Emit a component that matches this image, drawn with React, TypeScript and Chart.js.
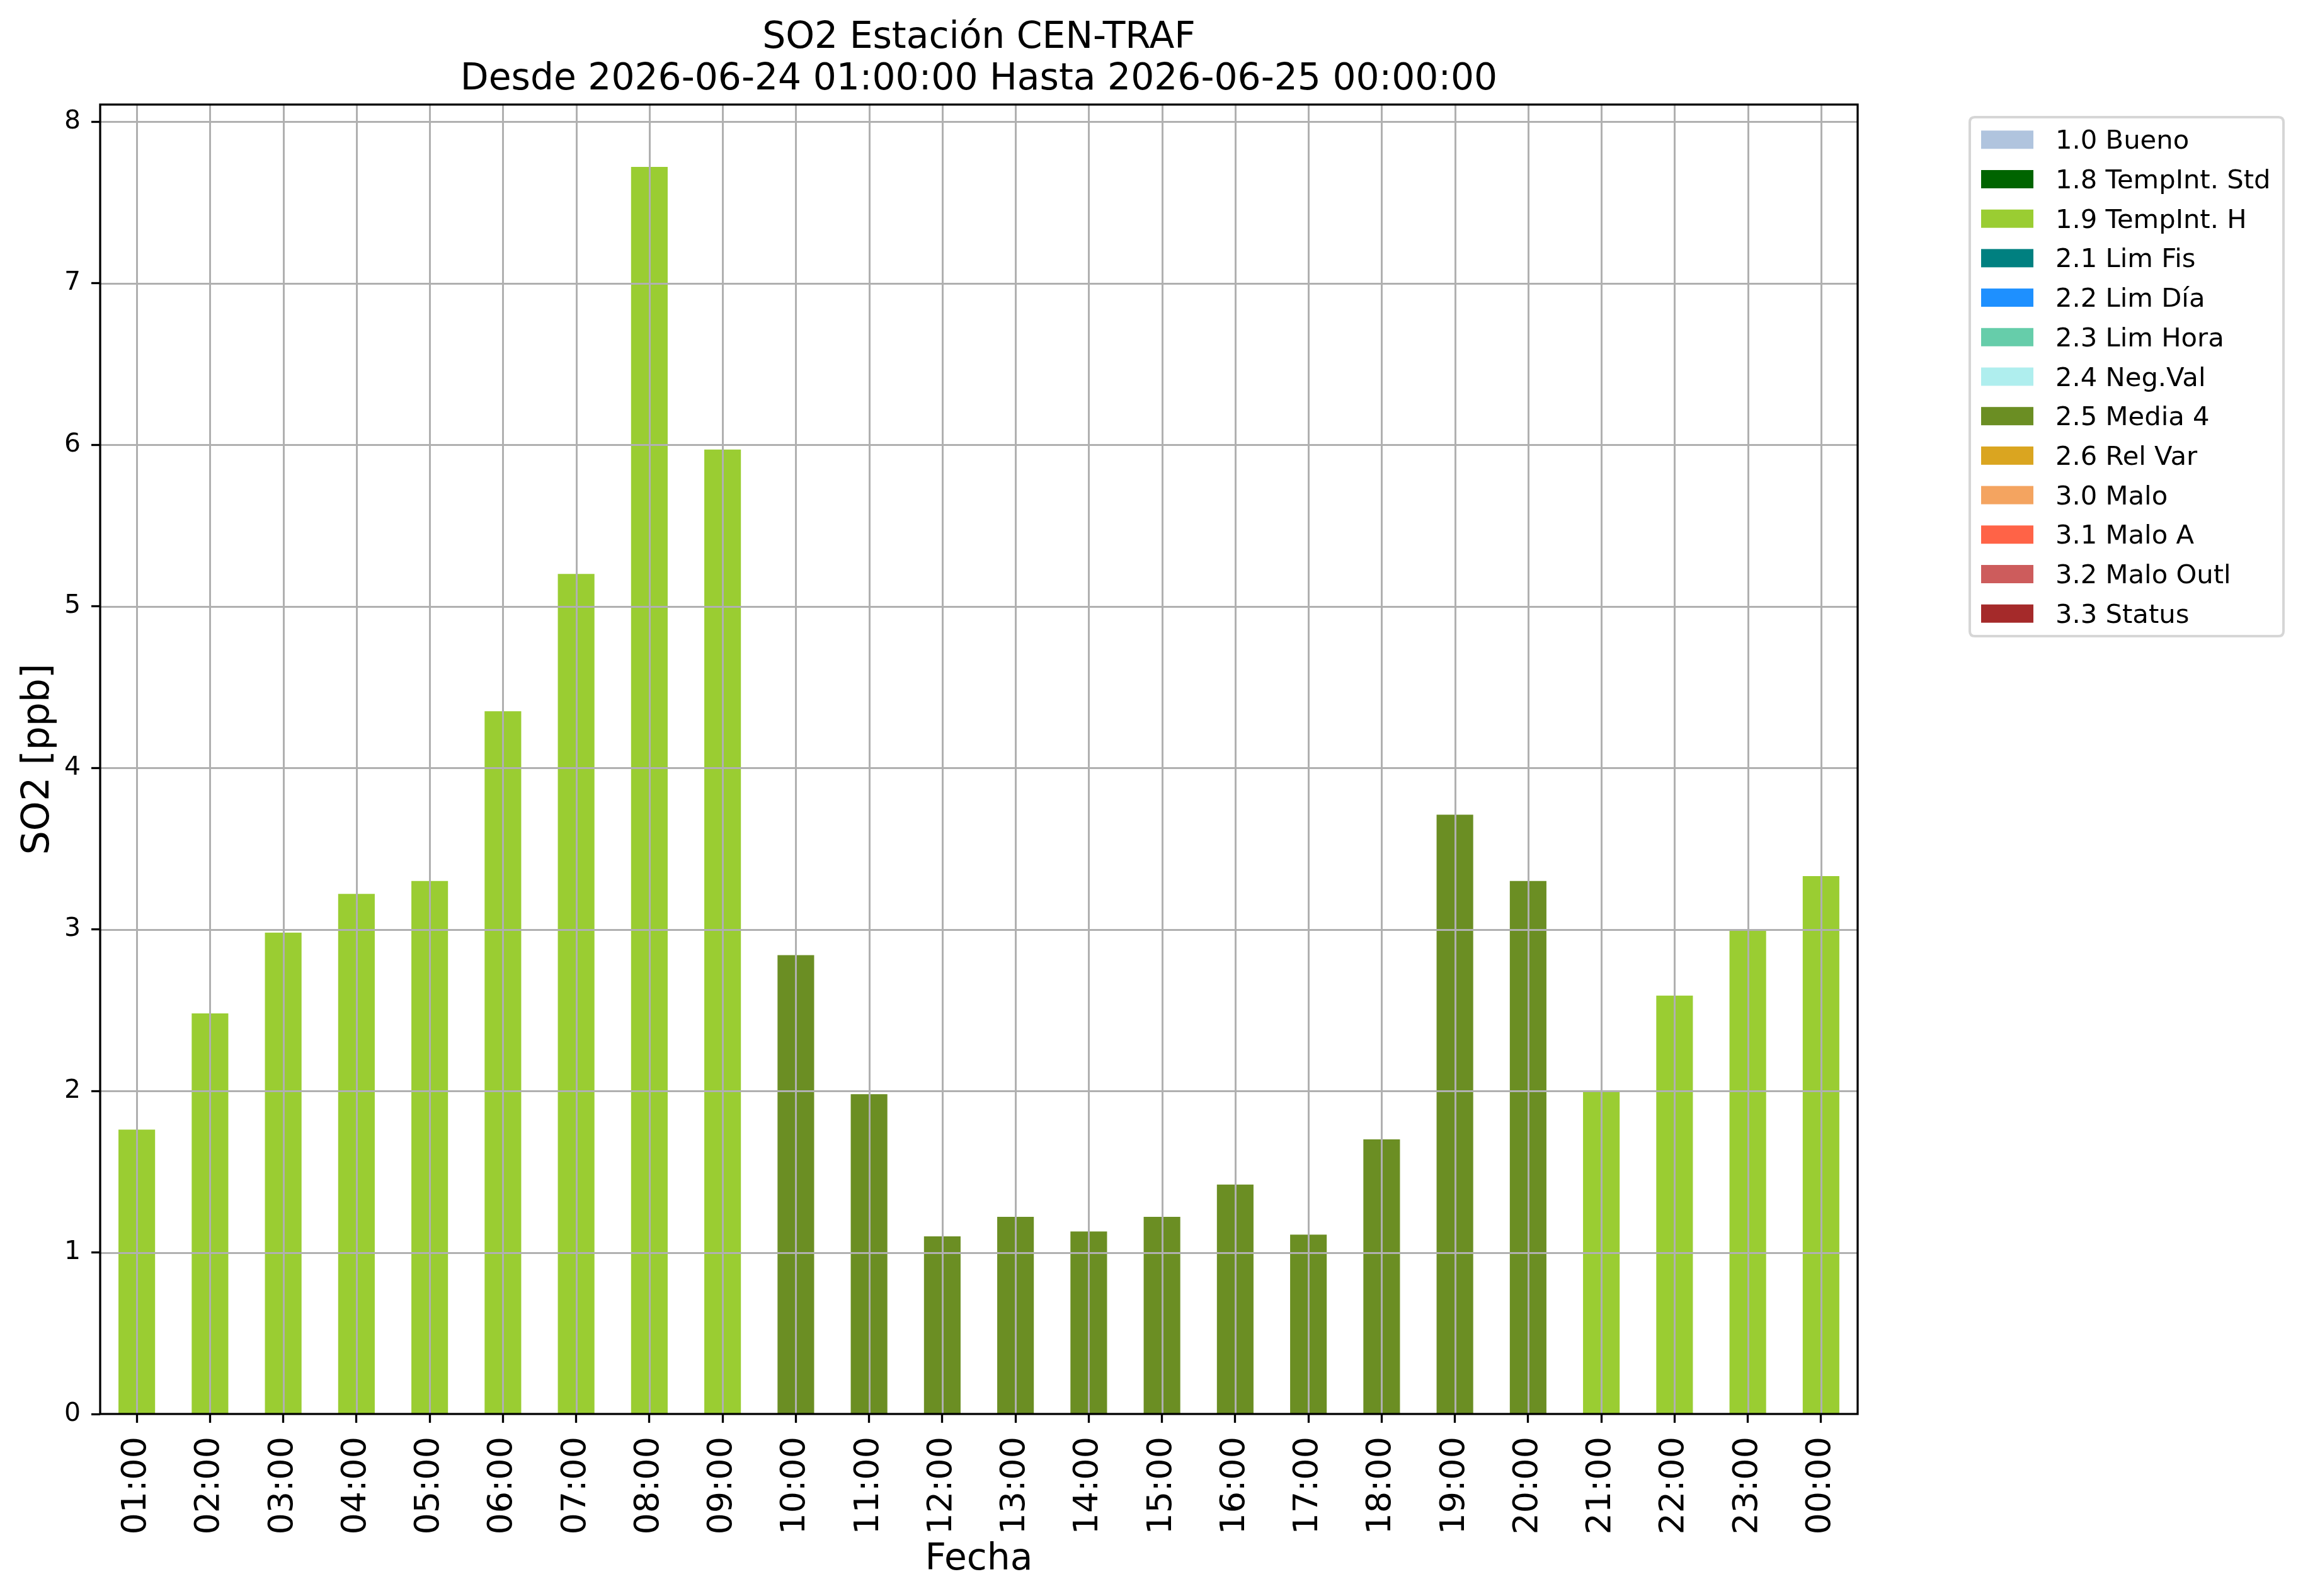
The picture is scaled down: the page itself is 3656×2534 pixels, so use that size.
import React, { useEffect, useRef } from "react";
import { Chart, registerables } from "chart.js";

Chart.register(...registerables);

const hours = [
  "01:00", "02:00", "03:00", "04:00", "05:00", "06:00", "07:00", "08:00",
  "09:00", "10:00", "11:00", "12:00", "13:00", "14:00", "15:00", "16:00",
  "17:00", "18:00", "19:00", "20:00", "21:00", "22:00", "23:00", "00:00",
];

const so2Values = [
  1.76, 2.48, 2.98, 3.22, 3.30, 4.35, 5.20, 7.72,
  5.97, 2.84, 1.98, 1.10, 1.22, 1.13, 1.22, 1.42,
  1.11, 1.70, 3.71, 3.30, 2.00, 2.59, 3.00, 3.33,
];

const flagCodes = [
  "1.9", "1.9", "1.9", "1.9", "1.9", "1.9", "1.9", "1.9",
  "1.9", "2.5", "2.5", "2.5", "2.5", "2.5", "2.5", "2.5",
  "2.5", "2.5", "2.5", "2.5", "1.9", "1.9", "1.9", "1.9",
];

const legendCodes = [
  "1.0", "1.8", "1.9", "2.1", "2.2", "2.3", "2.4", "2.5", "2.6", "3.0", "3.1", "3.2", "3.3",
];

const legendNames = [
  "Bueno", "TempInt. Std", "TempInt. H", "Lim Fis", "Lim Día", "Lim Hora",
  "Neg.Val", "Media 4", "Rel Var", "Malo", "Malo A", "Malo Outl", "Status",
];

const legendColors = [
  "#B0C4DE", "#006400", "#9ACD32", "#008080", "#1E90FF", "#66CDAA",
  "#AFEEEE", "#6B8E23", "#DAA520", "#F4A460", "#FF6347", "#CD5C5C", "#A52A2A",
];

const titleLines = [
  "SO2 Estación CEN-TRAF",
  "Desde 2026-06-24 01:00:00 Hasta 2026-06-25 00:00:00",
];
const xAxisTitle = "Fecha";
const yAxisTitle = "SO2 [ppb]";

const FONT = "'DejaVu Sans', sans-serif";

const W = 3656;
const H = 2534;
const AREA = { left: 159, right: 2949, top: 166, bottom: 2245 };

const overlayPlugin = {
  id: "overlay",
  afterDatasetsDraw(chart: any) {
    const ctx = chart.ctx;
    const ca = chart.chartArea;
    const xs = chart.scales.x;
    const ys = chart.scales.y;
    ctx.save();
    ctx.beginPath();
    ctx.rect(ca.left, ca.top, ca.right - ca.left, ca.bottom - ca.top);
    ctx.clip();
    ctx.strokeStyle = "#b0b0b0";
    ctx.lineWidth = 3;
    xs.ticks.forEach((_t: any, i: number) => {
      const x = Math.round(xs.getPixelForTick(i)) + 0.5;
      ctx.beginPath();
      ctx.moveTo(x, ca.top);
      ctx.lineTo(x, ca.bottom);
      ctx.stroke();
    });
    ys.ticks.forEach((t: any) => {
      const y = Math.round(ys.getPixelForValue(t.value)) + 0.5;
      ctx.beginPath();
      ctx.moveTo(ca.left, y);
      ctx.lineTo(ca.right, y);
      ctx.stroke();
    });
    ctx.restore();

    ctx.save();
    ctx.strokeStyle = "#000000";
    ctx.lineWidth = 3.3;
    ctx.strokeRect(ca.left, ca.top, ca.right - ca.left, ca.bottom - ca.top);
    ctx.restore();
  },
  afterDraw(chart: any) {
    const ctx = chart.ctx;
    const ca = chart.chartArea;
    const cx = (ca.left + ca.right) / 2;
    ctx.save();
    ctx.fillStyle = "#000000";
    ctx.textAlign = "center";
    ctx.textBaseline = "alphabetic";
    ctx.font = `58.3px ${FONT}`;
    ctx.fillText(titleLines[0], cx, 76);
    ctx.fillText(titleLines[1], cx, 142);

    ctx.font = `58.3px ${FONT}`;
    ctx.fillText(xAxisTitle, cx, 2492);

    ctx.save();
    ctx.translate(77, (ca.top + ca.bottom) / 2);
    ctx.rotate(-Math.PI / 2);
    ctx.font = `60px ${FONT}`;
    ctx.fillText(yAxisTitle, 0, 0);
    ctx.restore();

    // legend
    const lx = 3127, ly = 186, lw = 498, lh = 824, r = 8;
    ctx.beginPath();
    ctx.moveTo(lx + r, ly);
    ctx.lineTo(lx + lw - r, ly);
    ctx.quadraticCurveTo(lx + lw, ly, lx + lw, ly + r);
    ctx.lineTo(lx + lw, ly + lh - r);
    ctx.quadraticCurveTo(lx + lw, ly + lh, lx + lw - r, ly + lh);
    ctx.lineTo(lx + r, ly + lh);
    ctx.quadraticCurveTo(lx, ly + lh, lx, ly + lh - r);
    ctx.lineTo(lx, ly + r);
    ctx.quadraticCurveTo(lx, ly, lx + r, ly);
    ctx.closePath();
    ctx.fillStyle = "rgba(255,255,255,0.8)";
    ctx.fill();
    ctx.strokeStyle = "#d6d6d6";
    ctx.lineWidth = 4;
    ctx.stroke();

    ctx.textAlign = "left";
    ctx.font = `41.7px ${FONT}`;
    legendCodes.forEach((code, i) => {
      const top = 207.3 + 62.7 * i;
      ctx.fillStyle = legendColors[i];
      ctx.fillRect(3145, top, 83, 29);
      ctx.fillStyle = "#000000";
      ctx.fillText(`${code} ${legendNames[i]}`, 3263, top + 29);
    });
    ctx.restore();
  },
};

export default function App() {
  const canvasRef = useRef<HTMLCanvasElement | null>(null);

  useEffect(() => {
    document.body.style.margin = "0";
    const canvas = canvasRef.current;
    if (!canvas) return;
    const barColors = flagCodes.map((c) => legendColors[legendCodes.indexOf(c)]);
    const yMax = Math.max(...so2Values) * 1.05;

    const chart = new Chart(canvas, {
      type: "bar",
      data: {
        labels: hours,
        datasets: [
          {
            label: "SO2",
            data: so2Values,
            backgroundColor: barColors,
            borderWidth: 0,
            barPercentage: 0.5,
            categoryPercentage: 1.0,
          },
        ],
      },
      options: {
        animation: false,
        responsive: false,
        devicePixelRatio: 1,
        layout: {
          padding: { left: 0, top: AREA.top, right: W - AREA.right, bottom: 0 },
        },
        plugins: {
          legend: { display: false },
          title: { display: false },
          tooltip: { enabled: false },
        },
        scales: {
          x: {
            type: "category",
            offset: true,
            grid: {
              offset: false,
              drawOnChartArea: false,
              drawTicks: true,
              tickLength: 14,
              tickWidth: 3.3,
              tickColor: "#000000",
            },
            border: { display: false },
            ticks: {
              autoSkip: false,
              maxRotation: 90,
              minRotation: 90,
              padding: 22,
              color: "#000000",
              font: { family: FONT, size: 54 },
            },
            afterFit(scale: any) {
              scale.height = H - AREA.bottom;
            },
          },
          y: {
            type: "linear",
            min: 0,
            max: yMax,
            grid: {
              drawOnChartArea: false,
              drawTicks: true,
              tickLength: 14,
              tickWidth: 3.3,
              tickColor: "#000000",
            },
            border: { display: false },
            ticks: {
              stepSize: 1,
              includeBounds: false,
              padding: 17,
              color: "#000000",
              font: { family: FONT, size: 41 },
            },
            afterFit(scale: any) {
              scale.width = AREA.left;
            },
          },
        },
      },
      plugins: [overlayPlugin],
    });
    return () => chart.destroy();
  }, []);

  return (
    <div style={{ position: "absolute", left: 0, top: 0, width: W, height: H, background: "#ffffff" }}>
      <canvas ref={canvasRef} width={W} height={H} style={{ display: "block", width: W, height: H }} />
    </div>
  );
}
